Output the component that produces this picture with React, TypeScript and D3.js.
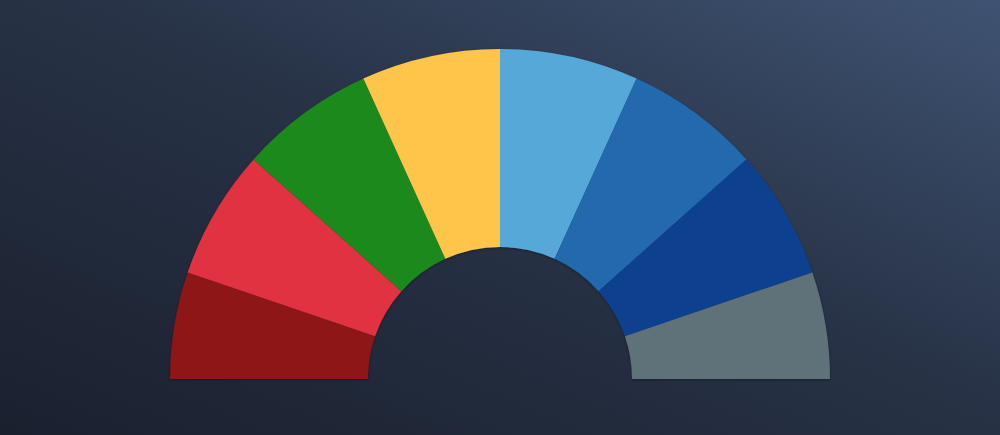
import React, { useEffect, useRef } from 'react';
import * as d3 from 'd3';

const parties = ['Left', 'Social Democrats', 'Greens', 'Liberals', 'Centre', 'Christian Democrats', 'Conservatives', 'Others'];
const seats = [94, 114, 119, 122, 122, 119, 114, 94];
const colors = ['#8e1414', '#e0303f', '#1d891c', '#ffc54b', '#55a8d8', '#2169ad', '#10418f', '#5f7279'];

const App: React.FC = () => {
  const svgRef = useRef<SVGSVGElement>(null);
  const width = 1000;
  const height = 435;

  useEffect(() => {
    if (!svgRef.current) return;
    const svg = d3.select(svgRef.current);
    svg.selectAll('*').remove();

    const defs = svg.append('defs');
    const grad = defs
      .append('linearGradient')
      .attr('id', 'bg')
      .attr('x1', '0%')
      .attr('y1', '100%')
      .attr('x2', '100%')
      .attr('y2', '0%');
    grad.append('stop').attr('offset', '0%').attr('stop-color', '#1a202e');
    grad.append('stop').attr('offset', '55%').attr('stop-color', '#283347');
    grad.append('stop').attr('offset', '100%').attr('stop-color', '#3f5372');

    const shadow = defs.append('filter').attr('id', 'shadow').attr('x', '-10%').attr('y', '-10%').attr('width', '120%').attr('height', '120%');
    shadow
      .append('feDropShadow')
      .attr('dx', 0)
      .attr('dy', 1)
      .attr('stdDeviation', 1.5)
      .attr('flood-color', '#000')
      .attr('flood-opacity', 0.35);

    svg.append('rect').attr('width', width).attr('height', height).attr('fill', 'url(#bg)');

    const cx = 500;
    const cy = 379;
    const outerR = 330;
    const innerR = 132;

    const pie = d3
      .pie<number>()
      .sort(null)
      .startAngle(-Math.PI / 2)
      .endAngle(Math.PI / 2);

    const arc = d3.arc<d3.PieArcDatum<number>>().innerRadius(innerR).outerRadius(outerR);

    const g = svg.append('g').attr('transform', `translate(${cx},${cy})`).attr('filter', 'url(#shadow)');

    g.selectAll('path')
      .data(pie(seats))
      .enter()
      .append('path')
      .attr('d', arc)
      .attr('fill', (_, i) => colors[i])
      .append('title')
      .text((d, i) => `${parties[i]}: ${d.data}`);
  }, []);

  return (
    <svg
      ref={svgRef}
      width={width}
      height={height}
      style={{ position: 'fixed', top: 0, left: 0, display: 'block' }}
    />
  );
};

export default App;
